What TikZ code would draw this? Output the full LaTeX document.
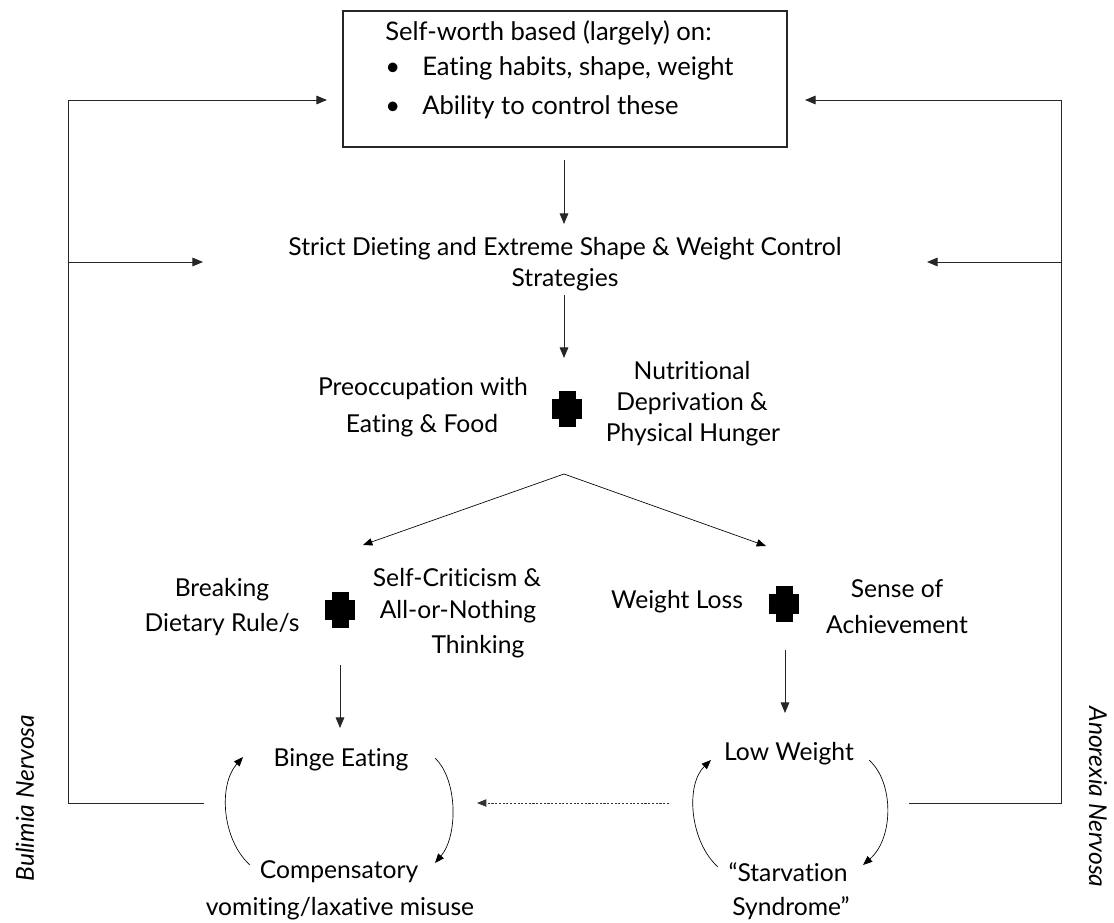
\documentclass[tikz,border=0pt]{standalone}
\usepackage{fontspec}
\setmainfont{Lato}[Ligatures=NoCommon]
\usetikzlibrary{arrows.meta}
\begin{document}
\begin{tikzpicture}[x=0.75pt,y=-0.75pt,
  txt/.style={font=\fontsize{18.5}{22}\selectfont, inner sep=0pt, anchor=base},
  boxtxt/.style={font=\fontsize{19.2}{23}\selectfont, inner sep=0pt, anchor=base west},
  side/.style={font=\fontsize{18.5}{22}\selectfont\itshape, inner sep=0pt},
  ln/.style={line width=0.7pt, draw=black!85},
  arr/.style={ln, -{Triangle[length=8pt,width=6.5pt]}},
  carr/.style={line width=0.5pt, draw=black, -{Triangle[length=7pt,width=5.5pt]}},
  dotarr/.style={line width=0.6pt, draw=black!80, dash pattern=on 1.6pt off 1.2pt, -{Triangle[length=7pt,width=5.5pt]}},
  frame/.style={draw=black!85, line width=0.9pt, minimum width=333pt, minimum height=102pt, inner sep=0pt},
  plussign/.pic={\fill (-8.5,-18) rectangle (8.5,18); \fill (-15,-10) rectangle (15,10);}
]
\useasboundingbox (0,0) rectangle (1114,923);

% top box
\node[frame] (box) at (565,79) {};
\node[boxtxt] (sw) at (385,41) {Self-worth based (largely) on:};
\node[boxtxt] (b1) at (385,76) {•};
\node[boxtxt] (sw1) at (422,76) {Eating habits, shape, weight};
\node[boxtxt] (b2) at (385,115) {•};
\node[boxtxt] (sw2) at (422,115) {Ability to control these};

% dieting
\node[txt] (diet1) at (565,256) {Strict Dieting and Extreme Shape \& Weight Control};
\node[txt] (diet2) at (565,287) {Strategies};

% preoccupation
\node[txt] (pre1) at (423,396) {Preoccupation with};
\node[txt] (pre2) at (422,433) {Eating \& Food};
\pic at (567,409.5) {plussign};
\node[txt] (nut1) at (692,380) {Nutritional};
\node[txt] (nut2) at (692,411) {Deprivation \&};
\node[txt] (nut3) at (693,442) {Physical Hunger};

% left branch
\node[txt] (brk1) at (222,596) {Breaking};
\node[txt] (brk2) at (222,631) {Dietary Rule/s};
\pic at (340,609.5) {plussign};
\node[txt] (sc1) at (457,586) {Self-Criticism \&};
\node[txt] (sc2) at (458,618) {All-or-Nothing};
\node[txt] (sc3) at (478,653) {Thinking};

% right branch
\node[txt] (wl) at (677,608) {Weight Loss};
\pic at (784,603.5) {plussign};
\node[txt] (soa1) at (897,597) {Sense of};
\node[txt] (soa2) at (897,633) {Achievement};

% cycles
\node[txt] (binge) at (341,766) {Binge Eating};
\node[txt] (comp1) at (339,878) {Compensatory};
\node[txt] (comp2) at (340,915) {vomiting/laxative misuse};
\node[txt] (low) at (789,760) {Low Weight};
\node[txt] (starv1) at (788,881) {“Starvation};
\node[txt] (starv2) at (791,915) {Syndrome”};

% side labels
\node[side, rotate=90] (bn) at (25,798) {Bulimia Nervosa};
\node[side, rotate=-90] (an) at (1098,797) {Anorexia Nervosa};

% coordinates
\coordinate (lbot) at (204,803);
\coordinate (lcorner) at (68,803);
\coordinate (ltop) at (68,100);
\coordinate (lmid) at (68,262);
\coordinate (ltoptip) at (327,100);
\coordinate (lmidtip) at (203,262);
\coordinate (rbot) at (909,803);
\coordinate (rcorner) at (1061,803);
\coordinate (rtop) at (1061,100);
\coordinate (rmid) at (1061,262);
\coordinate (rtoptip) at (805,100);
\coordinate (rmidtip) at (927,262);
\coordinate (a1s) at (564,160);
\coordinate (a1e) at (564,224);
\coordinate (a2s) at (564,295);
\coordinate (a2e) at (564,358);
\coordinate (apex) at (564,474);
\coordinate (splitL) at (363,545);
\coordinate (splitR) at (766,546);
\coordinate (a3s) at (340,665);
\coordinate (a3e) at (340,728);
\coordinate (a4s) at (785,650);
\coordinate (a4e) at (785,713);
\coordinate (dots) at (669,803);
\coordinate (dote) at (477,803);

% feedback loops
\draw[ln] (lbot) -- (lcorner) -- (ltop);
\draw[arr] (ltop) -- (ltoptip);
\draw[arr] (lmid) -- (lmidtip);
\draw[ln] (rbot) -- (rcorner) -- (rtop);
\draw[arr] (rtop) -- (rtoptip);
\draw[arr] (rmid) -- (rmidtip);

% main flow
\draw[arr] (a1s) -- (a1e);
\draw[arr] (a2s) -- (a2e);
\draw[carr] (apex) -- (splitL);
\draw[carr] (apex) -- (splitR);
\draw[arr] (a3s) -- (a3e);
\draw[arr] (a4s) -- (a4e);
\draw[dotarr] (dots) -- (dote);

% cycle arcs
\draw[carr] (250,865) .. controls (222,840) and (218,785) .. (243,757);
\draw[carr] (435,758) .. controls (458,780) and (458,836) .. (435,863);
\draw[carr] (718,867) .. controls (690,842) and (685,785) .. (711,760);
\draw[carr] (869,760) .. controls (894,782) and (894,838) .. (863,865);
\end{tikzpicture}
\end{document}
